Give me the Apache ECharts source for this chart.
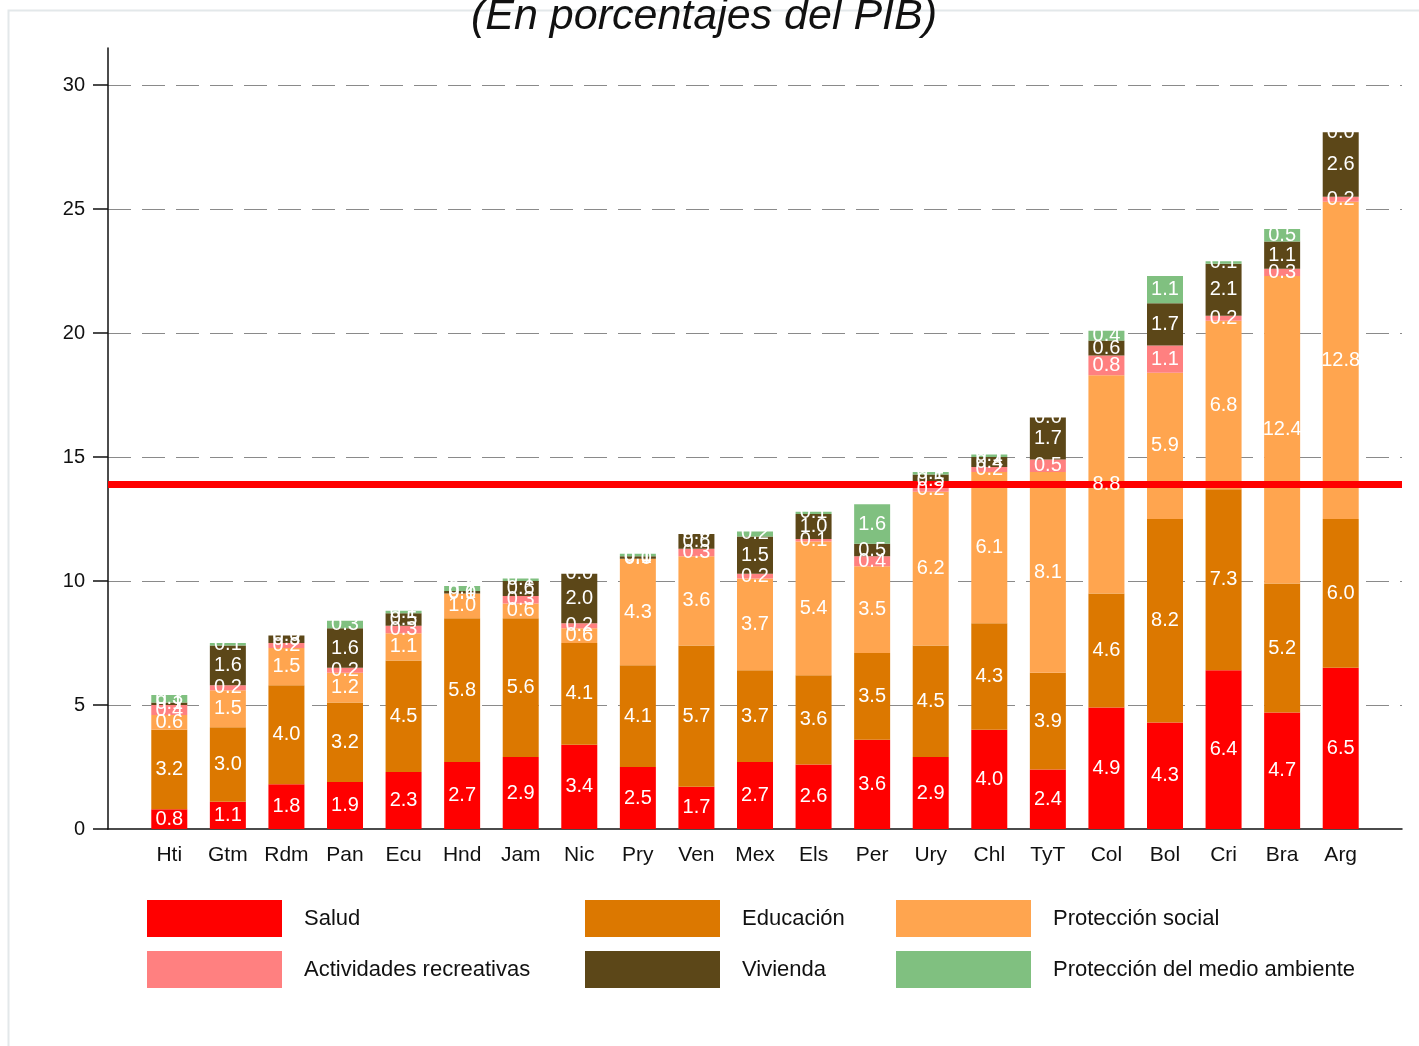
<!DOCTYPE html>
<html>
<head>
<meta charset="utf-8">
<script src="https://cdn.jsdelivr.net/npm/echarts@6/dist/echarts.min.js"></script>
<style>
  html, body { margin: 0; padding: 0; background: #fff; }
  #main { width: 1419px; height: 1046px; }
</style>
</head>
<body>
<div id="main"></div>
<script>
// datos (% del PIB)
var paises = ['Hti','Gtm','Rdm','Pan','Ecu','Hnd','Jam','Nic','Pry','Ven','Mex','Els','Per','Ury','Chl','TyT','Col','Bol','Cri','Bra','Arg'];
var salud       = [0.8,1.1,1.8,1.9,2.3,2.7,2.9,3.4,2.5,1.7,2.7,2.6,3.6,2.9,4.0,2.4,4.9,4.3,6.4,4.7,6.5];
var educacion   = [3.2,3.0,4.0,3.2,4.5,5.8,5.6,4.1,4.1,5.7,3.7,3.6,3.5,4.5,4.3,3.9,4.6,8.2,7.3,5.2,6.0];
var proteccion  = [0.6,1.5,1.5,1.2,1.1,1.0,0.6,0.6,4.3,3.6,3.7,5.4,3.5,6.2,6.1,8.1,8.8,5.9,6.8,12.4,12.8];
var recreativas = [0.4,0.2,0.2,0.2,0.3,0.0,0.3,0.2,0.0,0.3,0.2,0.1,0.4,0.2,0.2,0.5,0.8,1.1,0.2,0.3,0.2];
var vivienda    = [0.1,1.6,0.3,1.6,0.5,0.1,0.6,2.0,0.1,0.6,1.5,1.0,0.5,0.5,0.4,1.7,0.6,1.7,2.1,1.1,2.6];
var ambiente    = [0.3,0.1,0.0,0.3,0.1,0.2,0.1,0.0,0.1,0.0,0.2,0.1,1.6,0.1,0.1,0.0,0.4,1.1,0.1,0.5,0.0];
var promedio = 13.9;
var yTicks = [0, 5, 10, 15, 20, 25, 30];

var fuente = '"Liberation Sans", Arial, sans-serif';

var grupos = [
  ['Salud', salud, '#ff0000'],
  ['Educación', educacion, '#dc7800'],
  ['Protección social', proteccion, '#ffa54f'],
  ['Actividades recreativas', recreativas, '#ff8080'],
  ['Vivienda', vivienda, '#5c4718'],
  ['Protección del medio ambiente', ambiente, '#80c080']
];

// barras de color (sin texto)
function serie(g) {
  return {
    name: g[0],
    type: 'bar',
    stack: 'total',
    barWidth: 36,
    z: 2,
    itemStyle: { color: g[2] },
    data: g[1]
  };
}

// copia transparente solo para los rotulos, encima de la linea roja
function rotulos(g) {
  return {
    name: g[0] + ' (valor)',
    type: 'bar',
    stack: 'rotulos',
    barWidth: 36,
    barGap: '-100%',
    z: 6,
    silent: true,
    itemStyle: { color: 'rgba(0,0,0,0)' },
    label: {
      show: true,
      position: 'inside',
      color: '#fff',
      fontSize: 20,
      fontFamily: fuente,
      formatter: function (p) { return p.value.toFixed(1); }
    },
    data: g[1]
  };
}

var myChart = echarts.init(document.getElementById('main'));

function leyenda(x, nombres) {
  return {
    orient: 'vertical',
    left: x,
    top: 895,
    icon: 'rect',
    itemWidth: 135,
    itemHeight: 37,
    itemGap: 14,
    selectedMode: false,
    data: nombres,
    textStyle: { fontSize: 22, color: '#111', fontFamily: fuente, padding: [2, 0, 0, 17] }
  };
}

var series = grupos.map(serie).concat(grupos.map(rotulos));
series.push({
  name: 'promedio',
  type: 'line',
  xAxisIndex: 1,
  yAxisIndex: 1,
  z: 4,
  data: [],
  markLine: {
    silent: true,
    symbol: 'none',
    label: { show: false },
    lineStyle: { color: '#ff0000', width: 7, type: 'solid' },
    data: [{ yAxis: promedio }]
  }
});

var option = {
  backgroundColor: '#fff',
  animation: false,
  graphic: [{
    type: 'rect',
    z: -10,
    shape: { x: 8.5, y: 10.5, width: 1420, height: 1040 },
    style: { fill: 'none', stroke: '#e3e8ea', lineWidth: 2 }
  }],
  title: {
    text: '(En porcentajes del PIB)',
    left: 466,
    top: -9,
    textStyle: { fontSize: 43, fontStyle: 'italic', fontWeight: 'normal', color: '#111', fontFamily: fuente }
  },
  legend: [
    leyenda(142, ['Salud', 'Actividades recreativas']),
    leyenda(580, ['Educación', 'Vivienda']),
    leyenda(891, ['Protección social', 'Protección del medio ambiente'])
  ],
  grid: [
    { left: 140, right: 49, top: 48, bottom: 217 },   // barras
    { left: 108, right: 17, top: 48, bottom: 217 }    // ejes y lineas
  ],
  xAxis: [{
    type: 'category',
    gridIndex: 0,
    data: paises,
    axisLine: { show: false },
    axisTick: { show: false },
    axisLabel: { fontSize: 21, color: '#111', fontFamily: fuente, margin: 16 }
  }, {
    type: 'value',
    gridIndex: 1,
    min: 0,
    max: 1,
    axisLine: { show: true, onZero: false, lineStyle: { color: '#111', width: 1.5 } },
    axisTick: { show: false },
    axisLabel: { show: false },
    splitLine: { show: false }
  }],
  yAxis: [{
    type: 'value',
    gridIndex: 0,
    min: 0,
    max: 31.5,
    show: false
  }, {
    type: 'value',
    gridIndex: 1,
    min: 0,
    max: 31.5,
    interval: 5,
    axisLine: { show: true, onZero: false, lineStyle: { color: '#111', width: 1.5 } },
    axisTick: { show: true, length: 15, lineStyle: { color: '#111', width: 1.5 } },
    splitLine: { show: true, showMinLine: false, showMaxLine: false, lineStyle: { color: '#8a8a8a', width: 1.2, type: [23, 11] } },
    axisLabel: {
      fontSize: 20,
      color: '#111',
      fontFamily: fuente,
      margin: 23,
      showMaxLabel: false,
      formatter: function (v) { return yTicks.indexOf(v) >= 0 ? String(v) : ''; }
    }
  }],
  series: series
};

myChart.setOption(option);
</script>
</body>
</html>
